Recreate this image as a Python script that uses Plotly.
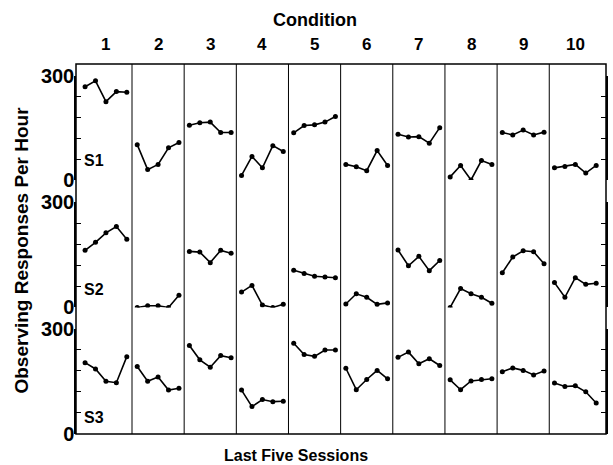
import plotly.graph_objects as go

conditions = ["1", "2", "3", "4", "5", "6", "7", "8", "9", "10"]
subjects = ["S1", "S2", "S3"]

s1 = [
    [269, 286, 226, 255, 253],
    [102, 30, 45, 93, 108],
    [158, 165, 167, 137, 137],
    [13, 68, 35, 99, 82],
    [136, 157, 159, 167, 183],
    [45, 38, 27, 85, 42],
    [132, 124, 125, 106, 151],
    [9, 42, 0, 56, 45],
    [137, 130, 144, 130, 138],
    [35, 39, 45, 20, 42],
]
s2 = [
    [163, 186, 213, 231, 195],
    [0, 5, 5, 0, 35],
    [160, 158, 128, 163, 155],
    [44, 63, 7, 0, 9],
    [106, 97, 89, 87, 85],
    [10, 39, 29, 9, 13],
    [164, 119, 146, 105, 134],
    [0, 54, 39, 29, 12],
    [99, 144, 162, 159, 125],
    [71, 29, 85, 66, 69],
]
s3 = [
    [203, 185, 150, 146, 220],
    [192, 150, 162, 125, 130],
    [252, 211, 190, 223, 217],
    [125, 78, 98, 92, 93],
    [258, 226, 221, 239, 239],
    [187, 126, 155, 181, 157],
    [218, 233, 200, 214, 195],
    [154, 126, 151, 155, 157],
    [177, 188, 181, 168, 179],
    [145, 135, 137, 120, 88],
]
series = [s1, s2, s3]
sessions_per_condition = 5
ytickvals = [0, 60, 120, 180, 240, 300]
yticktext = ["0", "", "", "", "", "300"]

FONT = "Liberation Sans"
fig = go.Figure()

yrefs = ["y", "y2", "y3"]
for si, data in enumerate(series):
    for ci, vals in enumerate(data):
        xs = [ci * sessions_per_condition + k + 1 for k in range(sessions_per_condition)]
        fig.add_trace(go.Scatter(
            x=xs, y=vals, mode="lines+markers",
            line=dict(color="black", width=1.6),
            marker=dict(color="black", size=5),
            xaxis="x", yaxis=yrefs[si], showlegend=False, hoverinfo="skip"))

domains = [[0.6865, 0.9676], [0.342, 0.626], [0.0, 0.285]]
yax_common = dict(range=[0, 300], tickvals=ytickvals, ticktext=yticktext,
                  ticks="inside", ticklen=5, tickwidth=1, tickcolor="black",
                  showline=True, linecolor="black", linewidth=1.5, mirror="ticks",
                  showgrid=False, zeroline=False, anchor="x",
                  tickfont=dict(family=FONT, size=20, color="black", weight="bold"),
                  ticklabelstandoff=-4)

nconds = len(conditions)
layout = dict(
    width=613, height=465,
    margin=dict(l=76, r=5, t=64, b=31),
    paper_bgcolor="white", plot_bgcolor="white",
    xaxis=dict(range=[0.13, 50.94], showticklabels=False, ticks="", showgrid=False,
               zeroline=False, showline=False, anchor="y3"),
    yaxis=dict(domain=domains[0], **yax_common),
    yaxis2=dict(domain=domains[1], **yax_common),
    yaxis3=dict(domain=domains[2], **yax_common),
)
fig.update_layout(**layout)

shapes = [dict(type="rect", xref="paper", yref="paper", x0=0, x1=1, y0=0, y1=1,
               line=dict(color="black", width=1.5))]
for i in range(1, nconds):
    xv = i * sessions_per_condition + 0.5
    shapes.append(dict(type="line", xref="x", yref="paper", x0=xv, x1=xv, y0=0, y1=1,
                       line=dict(color="black", width=1)))
fig.update_layout(shapes=shapes)

ann = []
for ci, lab in enumerate(conditions):
    ann.append(dict(text=lab, x=ci * sessions_per_condition + 3, xref="x",
                    y=1.054, yref="paper", showarrow=False, xanchor="center", yanchor="middle",
                    font=dict(family=FONT, size=17, color="black", weight="bold")))
ann.append(dict(text="Condition", x=0.451, xref="paper", y=1.118, yref="paper",
                showarrow=False, xanchor="center", yanchor="middle",
                font=dict(family=FONT, size=18, color="black", weight="bold")))
ann.append(dict(text="Last Five Sessions", x=0.415, xref="paper", y=-0.057, yref="paper",
                showarrow=False, xanchor="center", yanchor="middle",
                font=dict(family=FONT, size=16, color="black", weight="bold")))
ann.append(dict(text="Observing Responses Per Hour", x=-0.103, xref="paper", y=0.497,
                yref="paper", textangle=-90, showarrow=False, xanchor="center", yanchor="middle",
                font=dict(family=FONT, size=19, color="black", weight="bold")))
s_pos = [55, 52, 48]
for si, lab in enumerate(subjects):
    ann.append(dict(text=lab, x=0.012, xref="paper", y=s_pos[si], yref=yrefs[si],
                    showarrow=False, xanchor="left", yanchor="middle",
                    font=dict(family=FONT, size=16, color="black", weight="bold")))
fig.update_layout(annotations=ann)

fig.write_html("out.html", config={"displayModeBar": False},
               post_script="document.body.style.margin='0';document.body.style.overflow='hidden';")
